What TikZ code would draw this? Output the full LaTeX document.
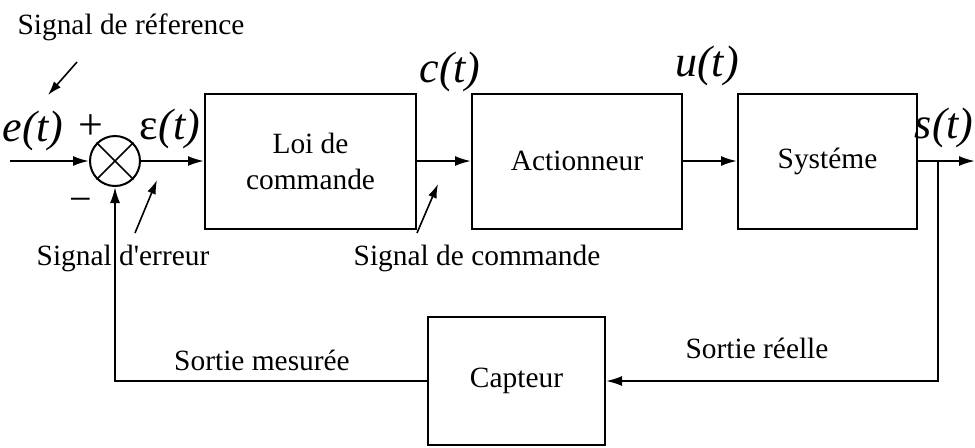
\documentclass[tikz,border=0pt]{standalone}
\usepackage{fontspec}
\setmainfont{Liberation Serif}[ItalicFont={Liberation Serif Italic},Ligatures=TeXOff]
\usetikzlibrary{arrows.meta}
\begin{document}
\begin{tikzpicture}[x=0.5pt,y=-0.5pt,
  blk/.style={draw,line width=1pt,inner sep=0pt,align=center,font=\fontsize{14.7}{18}\selectfont},
  lbl/.style={font=\fontsize{14.7}{17}\selectfont, inner sep=0pt},
  sig/.style={font=\fontsize{22}{24}\selectfont\itshape, inner sep=0pt},
  conn/.style={line width=1pt,-{Latex[length=8pt,width=5pt]}},
  ptr/.style={line width=0.8pt,-{Latex[length=7pt,width=4.5pt]}}]
\useasboundingbox (0,0) rectangle (975,447);
% blocks
\node[blk,minimum width=105.5pt,minimum height=67.5pt] (b1) at (310.5,161) {Loi de\\commande};
\node[blk,minimum width=105pt,minimum height=67.5pt] (b2) at (577,161) {Actionneur};
\node[blk,minimum width=89.5pt,minimum height=67.5pt] (b3) at (827.5,161) {Systéme};
\node[blk,minimum width=88.5pt,minimum height=64pt] (cap) at (516.5,381) {Capteur};
% summing junction
\node[draw,circle,line width=1pt,minimum size=25pt,inner sep=0pt] (sum) at (115,161) {};
\draw[line width=0.8pt] (sum.north west) -- (sum.south east) (sum.north east) -- (sum.south west);
% coordinates
\coordinate (in) at (10,161);
\coordinate (out) at (975,161);
\coordinate (tap) at (938,161);
% connectors
\draw[conn] (in) -- (sum);
\draw[conn] (sum) -- (b1);
\draw[conn] (b1) -- (b2);
\draw[conn] (b2) -- (b3);
\draw[conn] (b3) -- (out);
\draw[conn] (tap) |- (cap.east);
\draw[conn] (cap.west) -| (sum.south);
% signal labels
\node[sig] (e) at (33,131) {e(t)};
\node[font=\fontsize{22}{24}\selectfont,inner sep=0pt] (plus) at (91,127) {+};
\node[font=\fontsize{20}{22}\selectfont,inner sep=0pt] (minus) at (81,205) {−};
\node[sig] (eps) at (170,129) {\upshape ε\itshape(t)};
\node[sig] (c) at (450,72) {c(t)};
\node[sig] (u) at (707,66) {u(t)};
\node[sig,anchor=east] (s) at (974,128) {s(t)};
% text labels
\node[lbl] (ref) at (131,27) {Signal de réference};
\node[lbl] (err) at (123,258) {Signal d'erreur};
\node[lbl] (cmd) at (477,258) {Signal de commande};
\node[lbl] (mes) at (262,360) {Sortie mesurée};
\node[lbl] (reel) at (757,348) {Sortie réelle};
% pointer arrows
\coordinate (p1t) at (77,62); \coordinate (p1h) at (48,95);
\coordinate (p2t) at (135,233); \coordinate (p2h) at (157,180);
\coordinate (p3t) at (417,233); \coordinate (p3h) at (438,184);
\draw[ptr] (p1t) -- (p1h);
\draw[ptr] (p2t) -- (p2h);
\draw[ptr] (p3t) -- (p3h);
\end{tikzpicture}
\end{document}
